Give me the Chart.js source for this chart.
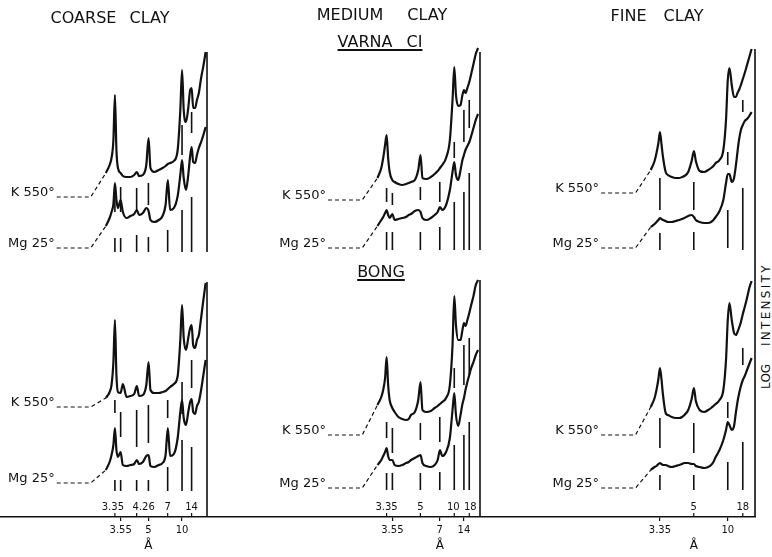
<!DOCTYPE html>
<html>
<head>
<meta charset="utf-8">
<script src="https://cdn.jsdelivr.net/npm/chart.js@4.4.0/dist/chart.umd.min.js"></script>
<style>
  body { margin: 0; background: #fff; }
  #fig { position: relative; width: 772px; height: 557px; overflow: hidden; font-family: "DejaVu Sans", sans-serif; color: #111; }
  #fig canvas { position: absolute; top: 0; }
  .title { position: absolute; font-size: 16px; line-height: 16px; white-space: nowrap; transform: translateX(-50%); }
  .ul { text-decoration: underline; text-decoration-thickness: 2px; text-underline-offset: 2px; }
  #logi { position: absolute; left: 766px; top: 326px; font-size: 12px; white-space: nowrap; transform: translate(-50%, -50%) rotate(-90deg); }
</style>
</head>
<body>
<div id="fig">
  <canvas id="coarse" width="258" height="557" style="left:0"></canvas>
  <canvas id="medium" width="258" height="557" style="left:258px"></canvas>
  <canvas id="fine" width="240" height="557" style="left:516px"></canvas>
  <div class="title" style="left:110px;top:10px;word-spacing:8px">COARSE CLAY</div>
  <div class="title" style="left:382px;top:7px;word-spacing:19px">MEDIUM CLAY</div>
  <div class="title ul" style="left:380px;top:34px;word-spacing:9px">VARNA CI</div>
  <div class="title ul" style="left:381px;top:264px">BONG</div>
  <div class="title" style="left:657px;top:8px;word-spacing:12px">FINE CLAY</div>
  <div id="logi">LOG <span style="margin-left:14px;letter-spacing:2.3px">INTENSITY</span></div>
</div>
<script>
// 2-theta grid (degrees, Cu K-alpha) shared by every trace
const twoTheta = [29, 28, 27.5, 27, 26.6, 26.2, 25.8, 25.1, 24.5, 23.5, 22.5, 21.5, 20.8, 20.2, 19.2, 18.3, 17.7, 17.2, 16.2, 15,
                  14, 13.2, 12.6, 12, 11, 10, 9.3, 8.84, 8.4, 7.8, 7.2, 6.7, 6.3, 5.9, 5.4, 4.9, 4.4, 3.8, 3.2, 2.6];

// log intensity, offset traces
const coarseVarnaK  = [344, 352, 359, 377, 422, 367, 349, 344, 341, 340, 340, 342, 345, 341, 342, 352, 379, 349, 345, 347,
                       349, 351, 353, 354, 356, 367, 407, 447, 407, 395, 409, 427, 429, 409, 409, 417, 424, 439, 451, 465];
const coarseVarnaMg = [291, 299, 305, 313, 334, 317, 309, 317, 305, 299, 301, 303, 307, 302, 304, 309, 306, 297, 295, 297,
                       301, 312, 337, 307, 309, 321, 342, 357, 339, 327, 342, 361, 370, 355, 354, 362, 369, 375, 382, 390];
const coarseBongK   = [119, 125, 132, 155, 197, 142, 125, 124, 133, 120, 121, 123, 131, 121, 122, 132, 155, 127, 124, 124,
                       125, 126, 128, 130, 133, 141, 177, 212, 179, 167, 179, 189, 192, 172, 169, 177, 182, 199, 217, 234];
const coarseBongMg  = [47, 55, 62, 72, 89, 67, 60, 65, 52, 51, 52, 53, 57, 53, 55, 61, 62, 51, 50, 52,
                       54, 62, 89, 61, 63, 79, 105, 117, 99, 92, 105, 115, 118, 105, 103, 111, 115, 127, 142, 157];

const mediumVarnaK  = [339, 349, 359, 372, 382, 359, 345, 337, 335, 333, 332, 333, 334, 335, 337, 347, 362, 339, 338, 340,
                       343, 346, 349, 352, 359, 377, 417, 450, 422, 411, 412, 422, 427, 424, 429, 435, 443, 453, 463, 469];
const mediumVarnaMg = [291, 297, 300, 304, 307, 302, 299, 303, 297, 298, 299, 300, 302, 303, 306, 307, 305, 299, 297, 299,
                       302, 305, 310, 307, 312, 327, 345, 355, 342, 337, 347, 357, 362, 367, 371, 375, 381, 389, 397, 403];
const mediumBongK   = [112, 120, 127, 139, 160, 132, 117, 109, 105, 100, 98, 97, 98, 102, 105, 117, 135, 107, 105, 106,
                       109, 111, 113, 115, 119, 132, 172, 221, 192, 177, 177, 187, 194, 191, 197, 204, 212, 221, 232, 237];
const mediumBongMg  = [52, 57, 61, 65, 69, 61, 57, 57, 52, 51, 52, 54, 55, 57, 59, 61, 62, 54, 51, 50,
                       52, 57, 67, 61, 65, 79, 107, 124, 102, 91, 102, 113, 119, 127, 135, 142, 149, 155, 162, 167];

const fineVarnaK    = [347, 356, 364, 374, 385, 373, 360, 345, 342, 340, 339, 339, 340, 341, 345, 356, 366, 356, 346, 345,
                       347, 349, 351, 354, 357, 367, 397, 437, 449, 432, 420, 420, 424, 427, 432, 438, 444, 452, 460, 468];
const fineVarnaMg   = [290, 293, 295, 297, 299, 298, 297, 296, 295, 295, 296, 297, 298, 299, 301, 302, 300, 297, 295, 294,
                       294, 295, 297, 300, 306, 317, 334, 343, 343, 335, 339, 352, 365, 377, 387, 392, 396, 398, 401, 405];
const fineBongK     = [110, 119, 127, 138, 149, 138, 122, 104, 102, 100, 99, 99, 100, 102, 107, 118, 129, 116, 107, 105,
                       107, 109, 111, 113, 117, 127, 157, 197, 214, 197, 184, 182, 185, 189, 195, 203, 210, 219, 229, 236];
const fineBongMg    = [47, 50, 51, 53, 54, 53, 52, 52, 51, 50, 51, 52, 53, 54, 54, 53, 53, 51, 50, 49,
                       50, 52, 55, 60, 67, 77, 87, 95, 92, 87, 91, 105, 115, 123, 131, 137, 141, 147, 153, 159];

// base level of each trace (K varna, Mg varna, K bong, Mg bong)
const coarseLevels = [320, 269, 110, 34];
const mediumLevels = [317, 269, 82, 29];
const fineLevels   = [324, 269, 82, 29];

// peak markers: [d spacing (A), top, bottom]
const coarseMarks = [
  [3.35, 332, 305], [3.55, 330, 305], [4.26, 329, 305], [5, 334, 312], [10, 392, 362], [14, 405, 384],
  [3.35, 279, 265], [3.55, 279, 265], [4.26, 282, 265], [5, 280, 265], [7, 287, 265], [10, 307, 265], [14, 320, 265],
  [3.35, 117, 104], [3.55, 105, 80], [4.26, 107, 70], [5, 112, 74], [7, 117, 99], [10, 135, 103], [14, 157, 129],
  [3.35, 37, 26], [3.55, 37, 26], [4.26, 37, 26], [5, 37, 26], [7, 50, 26], [10, 77, 26], [14, 70, 26]
];
const mediumMarks = [
  [3.35, 329, 315], [3.55, 324, 312], [5, 330, 317], [7, 335, 315], [10, 375, 359], [14, 407, 375], [18, 417, 389],
  [3.35, 285, 267], [3.55, 285, 267], [5, 285, 267], [7, 290, 267], [10, 315, 267], [14, 325, 267], [18, 344, 267],
  [3.35, 95, 79], [3.55, 89, 64], [5, 94, 77], [7, 100, 75], [10, 149, 129], [14, 172, 132], [18, 179, 142],
  [3.35, 44, 27], [3.55, 44, 27], [5, 44, 27], [7, 45, 27], [10, 72, 27], [14, 82, 27], [18, 95, 27]
];
const fineMarks = [
  [3.35, 339, 307], [5, 335, 307], [10, 365, 352], [18, 417, 405],
  [3.35, 284, 267], [5, 285, 267], [10, 307, 269], [18, 329, 267],
  [3.35, 99, 69], [5, 94, 64], [10, 115, 99], [18, 169, 152],
  [3.35, 42, 27], [5, 42, 27], [10, 55, 27], [18, 75, 27]
];

// low-angle limit line: [2-theta, top, bottom]
const coarseEdge = [[2.24, 465, 265], [2.24, 235, 0]];
const mediumEdge = [[2.09, 465, 267], [2.09, 237, 0]];
const fineEdge   = [[1.71, 468, 0]];

// d-spacing labels on the axis
const coarseUpper = [3.35, 4.26, 7, 14];
const coarseLower = [3.55, 5, 10];
const mediumUpper = [3.35, 5, 10, 18];
const mediumLower = [3.55, 7, 14];
const fineUpper = [5, 18];
const fineLower = [3.35, 10];

const traceNames = ['K 550°', 'Mg 25°', 'K 550°', 'Mg 25°'];
const INK = '#111';
const bragg = d => 2 * Math.asin(1.5418 / (2 * d)) * 180 / Math.PI;

function trace(vals) {
  return { data: vals.map((v, i) => ({ x: twoTheta[i], y: v })), borderColor: INK, borderWidth: 2.2,
           pointRadius: 0, cubicInterpolationMode: 'monotone' };
}
function leader(level, vals) {
  return { data: [{ x: 42, y: level }, { x: 33, y: level }, { x: twoTheta[0], y: vals[0] }],
           borderColor: INK, borderWidth: 1.2, borderDash: [4, 3], pointRadius: 0 };
}
function segs(list, xOf) {
  const pts = [];
  list.forEach(s => {
    const x = xOf(s[0]);
    pts.push({ x: x, y: s[1] }, { x: x, y: s[2] }, { x: x, y: null });
  });
  return { data: pts, borderColor: INK, borderWidth: 1.6, pointRadius: 0, spanGaps: false };
}

const labelsPlugin = {
  id: 'labels',
  afterDraw(chart, args, opts) {
    const { ctx } = chart;
    const x = chart.scales.x, y = chart.scales.y;
    const axisY = y.getPixelForValue(0);
    ctx.save();
    ctx.fillStyle = INK;
    ctx.strokeStyle = INK;
    ctx.lineWidth = 1.2;
    ctx.font = '13px "DejaVu Sans"';
    ctx.textAlign = 'right';
    ctx.textBaseline = 'middle';
    opts.levels.forEach((lv, i) => {
      ctx.fillText(traceNames[i], x.getPixelForValue(42) - 2, y.getPixelForValue(lv) - 4);
    });
    ctx.font = '10px "DejaVu Sans"';
    ctx.textAlign = 'center';
    opts.upper.forEach((d, i) => {
      const px = x.getPixelForValue(bragg(d));
      ctx.fillText(String(d), px + (opts.nudge[i] || 0), axisY - 10);
      ctx.beginPath();
      ctx.moveTo(px, axisY);
      ctx.lineTo(px, axisY - 4);
      ctx.stroke();
    });
    ctx.font = '12px "DejaVu Sans"';
    ctx.fillText('Å', x.getPixelForValue(bragg(opts.unitAt)), axisY + 29);
    ctx.restore();
  }
};

function makeChart(id, traces, levels, marks, edge, upper, lower, unitAt, nudge, xmin, xmax) {
  const datasets = [];
  traces.forEach((t, i) => {
    datasets.push(trace(t));
    datasets.push(leader(levels[i], t));
  });
  datasets.push(segs(marks, bragg));
  datasets.push(segs(edge, v => v));
  return new Chart(document.getElementById(id), {
    type: 'line',
    data: { datasets: datasets },
    options: {
      responsive: false,
      animation: false,
      layout: { padding: 0, autoPadding: false },
      plugins: {
        legend: { display: false },
        tooltip: { enabled: false },
        labels: { levels: levels, upper: upper, unitAt: unitAt, nudge: nudge }
      },
      scales: {
        x: {
          type: 'linear', reverse: true, min: xmin, max: xmax,
          afterFit: s => { s.height = 40; },
          afterBuildTicks: s => { s.ticks = lower.map(d => ({ value: bragg(d) })); },
          ticks: { callback: (v, i) => String(lower[i]), color: INK, padding: 3, autoSkip: false, maxRotation: 0,
                   font: { family: 'DejaVu Sans', size: 10 } },
          grid: { drawOnChartArea: false, drawTicks: true, tickLength: 4, color: INK, lineWidth: 1.2 },
          border: { display: true, color: INK, width: 1.6 }
        },
        y: { display: false, min: 0, max: 517 }
      }
    },
    plugins: [labelsPlugin]
  });
}

makeChart('coarse', [coarseVarnaK, coarseVarnaMg, coarseBongK, coarseBongMg], coarseLevels, coarseMarks, coarseEdge,
          coarseUpper, coarseLower, 5, [-2, 7, 0, 0], -11.25, 57.0);
makeChart('medium', [mediumVarnaK, mediumVarnaMg, mediumBongK, mediumBongMg], mediumLevels, mediumMarks, mediumEdge,
          mediumUpper, mediumLower, 7, [0, 0, -1, 1], -7.36, 60.36);
makeChart('fine', [fineVarnaK, fineVarnaMg, fineBongK, fineBongMg], fineLevels, fineMarks, fineEdge,
          fineUpper, fineLower, 5, [0, 0], 1.45, 64.28);
</script>
</body>
</html>
